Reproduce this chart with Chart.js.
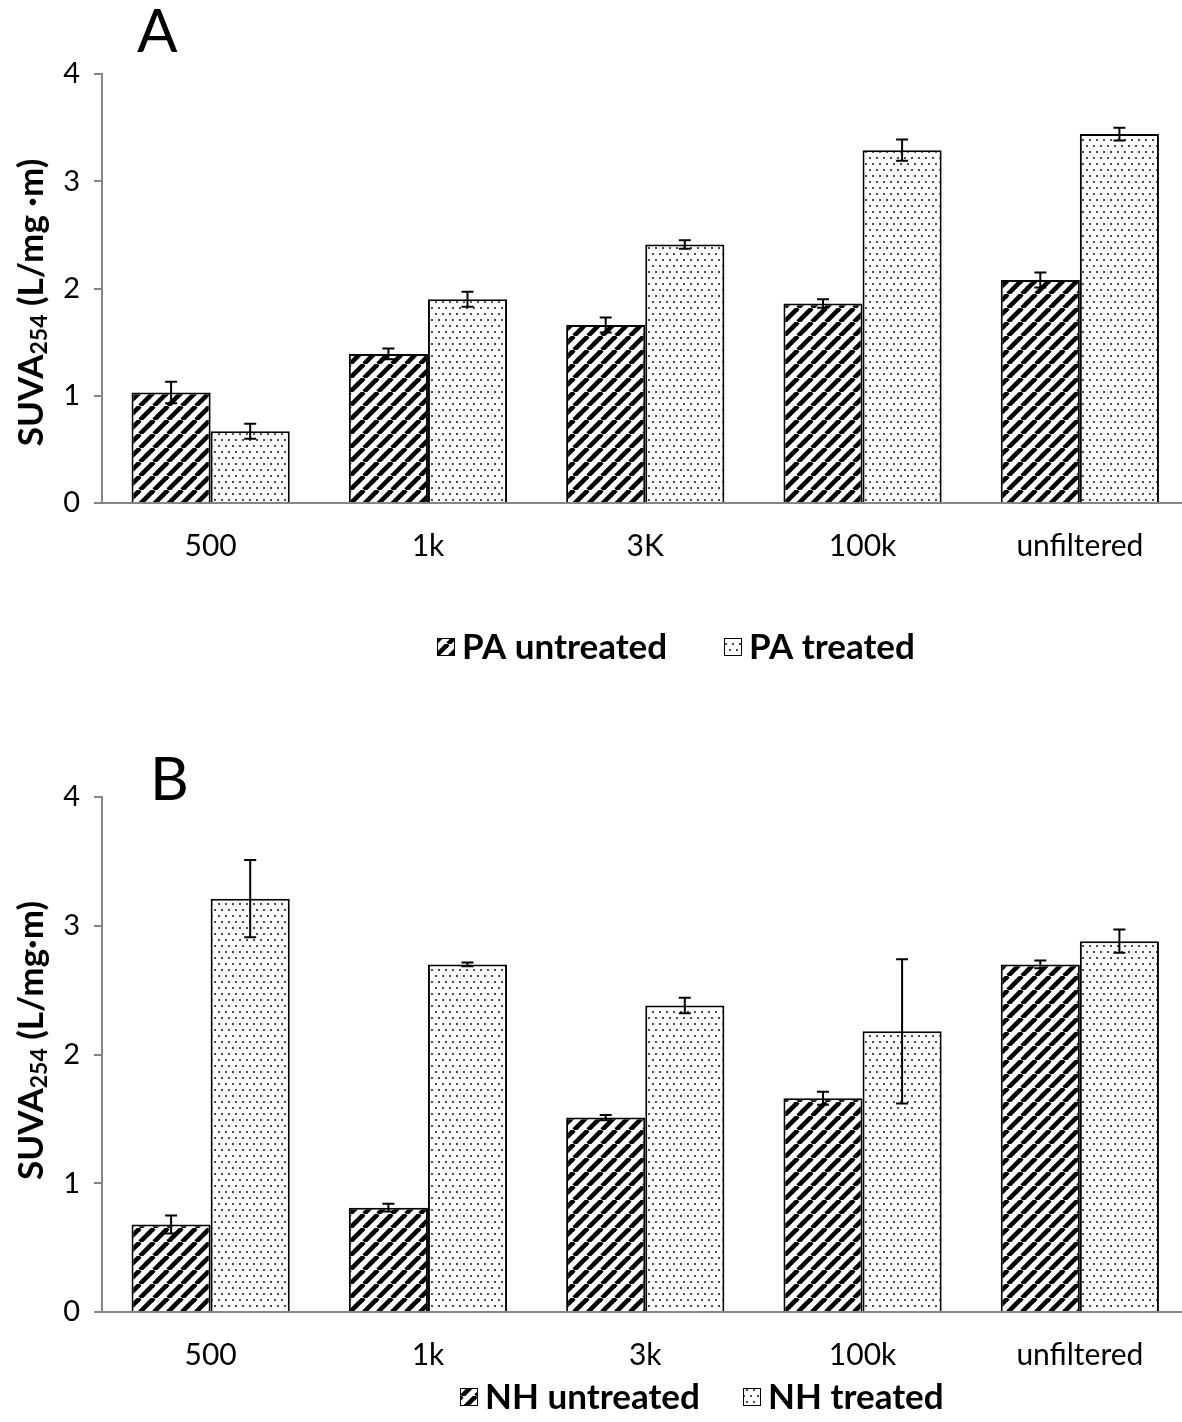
<!DOCTYPE html>
<html><head><meta charset="utf-8">
<script src="https://cdn.jsdelivr.net/npm/chart.js@4.4.1/dist/chart.umd.min.js"></script>
<style>
html,body{margin:0;padding:0;background:#fff;overflow:hidden;width:1182px;height:1422px;position:relative;}
.wrap{position:absolute;left:0;width:1192px;}
#wrapA{top:0;height:710px;}
#wrapB{top:710px;height:712px;}
canvas{display:block;}
</style></head><body>
<div class="wrap" id="wrapA"><canvas id="cA" width="1192" height="710"></canvas></div>
<div class="wrap" id="wrapB"><canvas id="cB" width="1192" height="712"></canvas></div>
<script>
// ---- data ----
const categoriesA = ['500', '1k', '3K', '100k', 'unfiltered'];
const categoriesB = ['500', '1k', '3k', '100k', 'unfiltered'];
const paUntreated    = [1.03, 1.39, 1.66, 1.86, 2.08];
const paUntreatedErr = [0.10, 0.05, 0.07, 0.04, 0.07];
const paTreated      = [0.67, 1.90, 2.41, 3.29, 3.44];
const paTreatedErr   = [0.07, 0.07, 0.04, 0.10, 0.06];
const nhUntreated    = [0.68, 0.81, 1.51, 1.66, 2.70];
const nhUntreatedErr = [0.07, 0.03, 0.02, 0.05, 0.03];
const nhTreated      = [3.21, 2.70, 2.38, 2.18, 2.88];
const nhTreatedErr   = [0.30, 0.015, 0.06, 0.56, 0.09];
const yTickValues = [0, 1, 2, 3, 4];

const FONT = 'Lato, "Open Sans", sans-serif';

// ---- patterns ----
function hatchPattern() {
  const n = 14;
  const c = document.createElement('canvas'); c.width = n; c.height = n;
  const x = c.getContext('2d');
  x.fillStyle = '#fff'; x.fillRect(0, 0, n, n);
  x.strokeStyle = '#000'; x.lineWidth = 4.6;
  for (const k of [-n, 0, n]) { x.beginPath(); x.moveTo(k, n); x.lineTo(k + n, 0); x.stroke(); }
  return x.createPattern(c, 'repeat');
}
function dotPattern() {
  const c = document.createElement('canvas'); c.width = 14; c.height = 12;
  const x = c.getContext('2d');
  x.fillStyle = '#fff'; x.fillRect(0, 0, 14, 12);
  x.fillStyle = '#4a4a4a';
  for (const [px, py] of [[1, 1], [8, 1], [4, 7], [11, 7]]) x.fillRect(px, py, 2, 2);
  return x.createPattern(c, 'repeat');
}
const HATCH = hatchPattern();
const DOTS = dotPattern();

// ---- plugin: error bars, legend, titles ----
const decor = {
  id: 'decor',
  afterDatasetsDraw(chart) {
    const ctx = chart.ctx; const y = chart.scales.y;
    ctx.save(); ctx.strokeStyle = '#000'; ctx.lineWidth = 2;
    chart.data.datasets.forEach((ds, i) => {
      const meta = chart.getDatasetMeta(i);
      meta.data.forEach((bar, j) => {
        const v = ds.data[j], e = ds.errors[j];
        const yt = y.getPixelForValue(v + e), yb = y.getPixelForValue(v - e), x = bar.x;
        ctx.beginPath();
        ctx.moveTo(x, yt); ctx.lineTo(x, yb);
        ctx.moveTo(x - 6, yt); ctx.lineTo(x + 6, yt);
        ctx.moveTo(x - 6, yb); ctx.lineTo(x + 6, yb);
        ctx.stroke();
      });
    });
    ctx.restore();
  },
  afterDraw(chart) {
    const o = chart.options.plugins.decor;
    const ctx = chart.ctx; const area = chart.chartArea;
    ctx.save();
    // panel letter
    ctx.fillStyle = '#000'; ctx.textBaseline = 'alphabetic'; ctx.textAlign = 'left';
    ctx.font = '60px ' + FONT;
    ctx.fillText(o.letter, o.letterX, o.letterY);
    // y title
    const parts = [
      { t: 'SUVA', f: 'bold 35px ' + FONT, dy: 0 },
      { t: '254', f: 'bold 23px ' + FONT, dy: 8 },
      { t: o.unit, f: 'bold 35px ' + FONT, dy: 0 }
    ];
    let total = 0;
    parts.forEach(p => { ctx.font = p.f; p.w = ctx.measureText(p.t).width; total += p.w; });
    ctx.translate(o.titleX, (area.top + area.bottom) / 2 + o.titleShift);
    ctx.rotate(-Math.PI / 2);
    ctx.textBaseline = 'middle';
    let cx = -total / 2;
    parts.forEach(p => { ctx.font = p.f; ctx.fillText(p.t, cx, p.dy); cx += p.w; });
    ctx.restore();
    // legend
    ctx.save();
    ctx.font = 'bold 35px ' + FONT; ctx.textBaseline = 'middle'; ctx.fillStyle = '#000';
    chart.data.datasets.forEach((ds, i) => {
      const bx = o.legendX[i], by = o.legendY;
      ctx.fillStyle = ds.backgroundColor; ctx.fillRect(bx, by - 9, 18, 18);
      ctx.strokeStyle = '#000'; ctx.lineWidth = 1; ctx.strokeRect(bx + 0.5, by - 8.5, 17, 17);
      ctx.fillStyle = '#000'; ctx.fillText(ds.label, bx + 25, by + 1);
    });
    ctx.restore();
  }
};

function makeChart(id, cats, s1, e1, s2, e2, names, opts) {
  return new Chart(document.getElementById(id), {
    type: 'bar',
    data: {
      labels: cats,
      datasets: [
        { label: names[0], data: s1, errors: e1, backgroundColor: HATCH, borderColor: '#000', borderWidth: 2 },
        { label: names[1], data: s2, errors: e2, backgroundColor: DOTS, borderColor: '#000', borderWidth: 2 }
      ]
    },
    plugins: [decor],
    options: {
      responsive: false, animation: false, devicePixelRatio: 1,
      datasets: { bar: { categoryPercentage: 0.728, barPercentage: 1.0, borderSkipped: 'bottom' } },
      layout: { padding: { left: 0, right: 3.5, top: opts.top, bottom: opts.bottom } },
      plugins: { legend: { display: false }, tooltip: { enabled: false }, decor: opts.decor },
      scales: {
        x: {
          z: 1,
          grid: { display: false, drawTicks: false },
          border: { display: true, color: '#868686', width: 2 },
          ticks: { color: '#000', font: { family: FONT, size: 30 }, padding: 25, maxRotation: 0 },
          afterFit(s) { s.height = 80; }
        },
        y: {
          min: 0, max: 4,
          afterBuildTicks(s) { s.ticks = yTickValues.map(v => ({ value: v })); },
          grid: { display: true, drawOnChartArea: false, drawTicks: true, tickLength: 8, color: '#868686', lineWidth: 2 },
          border: { display: true, color: '#868686', width: 2 },
          ticks: { color: '#000', font: { family: FONT, size: 29 }, padding: 14 },
          afterFit(s) { s.width = 102; }
        }
      }
    }
  });
}

makeChart('cA', categoriesA, paUntreated, paUntreatedErr, paTreated, paTreatedErr,
  ['PA untreated', 'PA treated'],
  { top: 74, bottom: 710 - 503 - 80,
    decor: { letter: 'A', letterX: 137, letterY: 52, unit: ' (L/mg \u00B7m)', titleX: 32, titleShift: 14,
             legendX: [437, 724], legendY: 647 } });

makeChart('cB', categoriesB, nhUntreated, nhUntreatedErr, nhTreated, nhTreatedErr,
  ['NH untreated', 'NH treated'],
  { top: 87, bottom: 712 - 602 - 80,
    decor: { letter: 'B', letterX: 150, letterY: 90, unit: ' (L/mg\u00B7m)', titleX: 32, titleShift: -14,
             legendX: [460, 743], legendY: 687 } });
</script>
</body></html>
